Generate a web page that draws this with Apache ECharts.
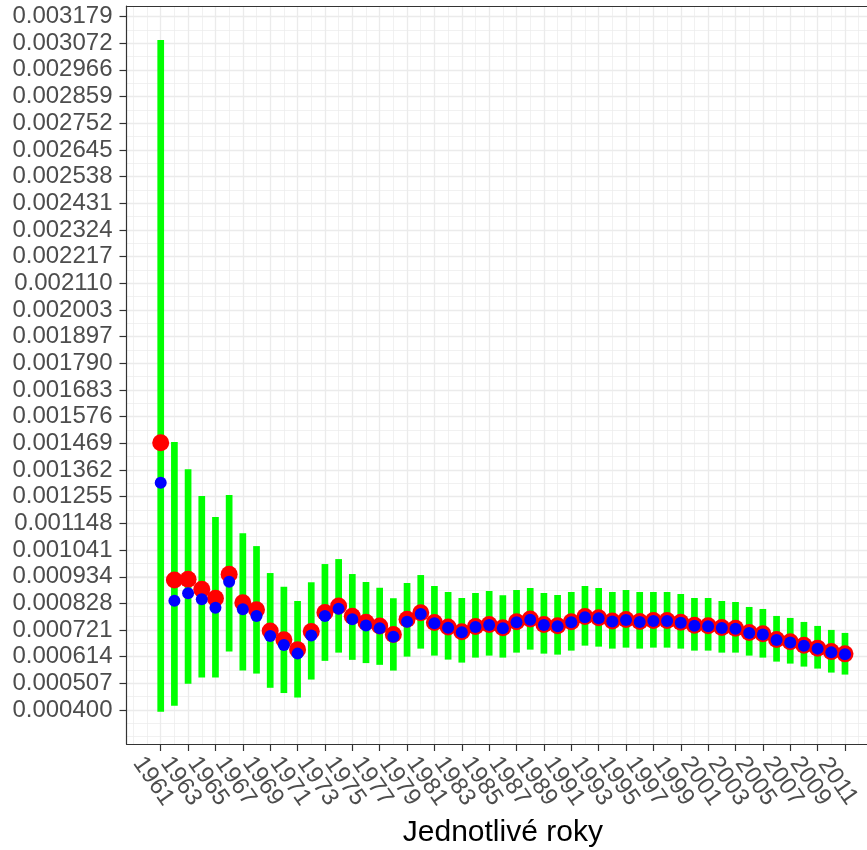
<!DOCTYPE html>
<html><head><meta charset="utf-8">
<script src="https://cdn.jsdelivr.net/npm/echarts@6/dist/echarts.min.js"></script>
<style>html,body{margin:0;padding:0;background:#fff}#c{width:867px;height:850px}</style>
</head><body><div id="c"></div>
<script>
const years = [1961,1962,1963,1964,1965,1966,1967,1968,1969,1970,1971,1972,1973,1974,1975,1976,1977,1978,1979,1980,1981,1982,1983,1984,1985,1986,1987,1988,1989,1990,1991,1992,1993,1994,1995,1996,1997,1998,1999,2000,2001,2002,2003,2004,2005,2006,2007,2008,2009,2010,2011];
const upper = [0.003086,0.001474,0.001365,0.001258,0.001174,0.001262,0.001108,0.001057,0.000949,0.000894,0.000837,0.000912,0.000985,0.001005,0.000945,0.000913,0.000890,0.000848,0.000909,0.000941,0.000897,0.000873,0.000849,0.000869,0.000877,0.000860,0.000881,0.000889,0.000869,0.000861,0.000873,0.000897,0.000889,0.000873,0.000881,0.000873,0.000873,0.000873,0.000865,0.000849,0.000849,0.000837,0.000833,0.000813,0.000805,0.000777,0.000769,0.000753,0.000737,0.000721,0.000709];
const lower = [0.000393,0.000417,0.000505,0.000530,0.000530,0.000634,0.000558,0.000546,0.000489,0.000468,0.000450,0.000522,0.000597,0.000630,0.000601,0.000588,0.000581,0.000558,0.000614,0.000646,0.000618,0.000602,0.000590,0.000610,0.000618,0.000610,0.000630,0.000642,0.000626,0.000622,0.000638,0.000658,0.000654,0.000646,0.000650,0.000646,0.000650,0.000650,0.000646,0.000638,0.000638,0.000630,0.000630,0.000618,0.000610,0.000594,0.000586,0.000574,0.000566,0.000550,0.000542];
const redVals = [0.001471,0.000921,0.000924,0.000884,0.000848,0.000944,0.000830,0.000802,0.000717,0.000682,0.000642,0.000715,0.000791,0.000817,0.000776,0.000752,0.000737,0.000703,0.000764,0.000790,0.000751,0.000733,0.000714,0.000735,0.000743,0.000730,0.000754,0.000765,0.000743,0.000738,0.000754,0.000775,0.000770,0.000757,0.000763,0.000755,0.000759,0.000759,0.000752,0.000740,0.000738,0.000731,0.000728,0.000711,0.000706,0.000683,0.000674,0.000660,0.000648,0.000634,0.000625];
const blueVals = [0.001311,0.000838,0.000868,0.000844,0.000810,0.000914,0.000804,0.000777,0.000697,0.000661,0.000626,0.000699,0.000777,0.000806,0.000764,0.000739,0.000728,0.000694,0.000754,0.000785,0.000748,0.000730,0.000712,0.000733,0.000741,0.000728,0.000752,0.000762,0.000741,0.000736,0.000752,0.000772,0.000768,0.000755,0.000761,0.000753,0.000757,0.000757,0.000750,0.000738,0.000736,0.000729,0.000726,0.000709,0.000703,0.000681,0.000671,0.000658,0.000646,0.000631,0.000623];
const yTickLabels = ['0.000400','0.000507','0.000614','0.000721','0.000828','0.000934','0.001041','0.001148','0.001255','0.001362','0.001469','0.001576','0.001683','0.001790','0.001897','0.002003','0.002110','0.002217','0.002324','0.002431','0.002538','0.002645','0.002752','0.002859','0.002966','0.003072','0.003179'];
const xTickLabels = [1961,1963,1965,1967,1969,1971,1973,1975,1977,1979,1981,1983,1985,1987,1989,1991,1993,1995,1997,1999,2001,2003,2005,2007,2009,2011];

const yMin = 0.0002637, yMax = 0.003222;
const xMin = 1958.5, xMax = 2013.5;   // panel runs past the right edge of the image
const FONT = 'Liberation Sans, Arial, sans-serif';

// grid line positions derived from the tick sets (major + ggplot-style minor)
const yMajor = yTickLabels.map(Number);
const yStep = (yMajor[yMajor.length-1] - yMajor[0]) / (yMajor.length - 1);
const yMinor = [];
for (let k = -2; k <= 2*(yMajor.length-1) + 2; k++) {
  const v = yMajor[0] + k*yStep/2;
  if (v >= yMin && v <= yMax) yMinor.push(v);
}
const xStep = xTickLabels[1] - xTickLabels[0];
const xMinor = [];
for (let k = -2; k <= 2*(xTickLabels.length-1) + 2; k++) {
  const v = xTickLabels[0] + k*xStep/2;
  if (v >= xMin && v <= xMax) xMinor.push(v);
}
// labels split over two overlapping axes so ECharts does not drop the neighbours of the end labels
const xLabelsA = xTickLabels.filter((v, i) => i % 2 === 0);
const xLabelsB = xTickLabels.filter((v, i) => i % 2 === 1);

const chart = echarts.init(document.getElementById('c'), null, {renderer:'canvas'});
const hidden = {show:false};
const AX = '#333333';
const xLabelStyle = {show:true, rotate:-55, align:'center', verticalAlign:'top', margin:32,
  lineHeight:18, showMinLabel:true, showMaxLabel:true, hideOverlap:false,
  color:'#4d4d4d', fontSize:24, fontFamily:FONT, formatter: v => String(Math.round(v))};
chart.setOption({
  animation: false,
  backgroundColor: '#ffffff',
  grid: {left:126.5, right:-12.2, top:6, bottom:106, show:false, containLabel:false, outerBoundsMode:'none'},
  xAxis: [
    {type:'value', min:xMin, max:xMax, position:'bottom',
     axisLine:{show:true, onZero:false, lineStyle:{color:AX, width:1.2}},
     axisTick:{show:true, customValues:xTickLabels, length:7, lineStyle:{color:AX, width:1.2}},
     axisLabel:Object.assign({customValues:xLabelsA}, xLabelStyle),
     splitLine:{show:true, customValues:xTickLabels, lineStyle:{color:'#ebebeb', width:1.3}},
     name:'Jednotlivé roky', nameLocation:'middle', nameGap:62,
     nameTextStyle:{fontSize:30, color:'#000000', fontFamily:FONT}},
    {type:'value', min:xMin, max:xMax, position:'top',
     axisLine:{show:true, onZero:false, lineStyle:{color:AX, width:1.2}},
     axisTick:{show:false, customValues:xMinor}, axisLabel:hidden,
     splitLine:{show:true, customValues:xMinor, lineStyle:{color:'#ebebeb', width:0.7}}},
    {type:'value', min:xMin, max:xMax, position:'bottom', offset:0,
     axisLine:hidden, axisTick:{show:false, customValues:xLabelsB},
     axisLabel:Object.assign({customValues:xLabelsB}, xLabelStyle),
     splitLine:hidden}
  ],
  yAxis: [
    {type:'value', min:yMin, max:yMax, position:'left',
     axisLine:{show:true, onZero:false, lineStyle:{color:AX, width:1.2}},
     axisTick:{show:true, customValues:yMajor, length:7, lineStyle:{color:AX, width:1.2}},
     axisLabel:{show:true, customValues:yMajor, margin:14, color:'#4d4d4d', fontSize:24, fontFamily:FONT,
       showMinLabel:true, showMaxLabel:true,
       formatter: v => yTickLabels[yMajor.findIndex(t => Math.abs(t - v) < 1e-9)] || v.toFixed(6)},
     splitLine:{show:true, customValues:yMajor, lineStyle:{color:'#ebebeb', width:1.3}}},
    {type:'value', min:yMin, max:yMax, position:'right',
     axisLine:hidden, axisTick:{show:false, customValues:yMinor}, axisLabel:hidden,
     splitLine:{show:true, customValues:yMinor, lineStyle:{color:'#ebebeb', width:0.7}}}
  ],
  series: [
    {type:'custom', xAxisIndex:0, yAxisIndex:0, z:5,
     data: years.map((y,i) => [y, lower[i], upper[i]]),
     encode:{x:0, y:[1,2]},
     renderItem: function(params, api){
       const x = api.value(0);
       const p1 = api.coord([x, api.value(1)]);
       const p2 = api.coord([x, api.value(2)]);
       const w = 6.7;
       return {type:'rect', shape:{x:p1[0]-w/2, y:p2[1], width:w, height:p1[1]-p2[1]}, style:{fill:'#00ff00'}};
     }},
    {type:'scatter', xAxisIndex:0, yAxisIndex:0, z:6, symbol:'circle', symbolSize:17,
     itemStyle:{color:'#ff0000', opacity:1}, data: years.map((y,i) => [y, redVals[i]])},
    {type:'scatter', xAxisIndex:0, yAxisIndex:0, z:7, symbol:'circle', symbolSize:12,
     itemStyle:{color:'#0000ff', opacity:1}, data: years.map((y,i) => [y, blueVals[i]])}
  ]
});
</script>
</body></html>
